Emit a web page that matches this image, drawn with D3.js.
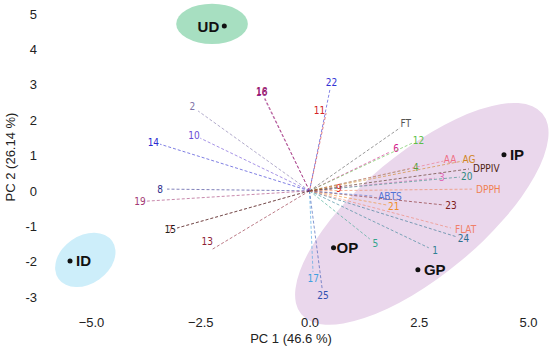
<!DOCTYPE html>
<html>
<head>
<meta charset="utf-8">
<script src="https://cdn.jsdelivr.net/npm/d3@7"></script>
<style>
  body { margin: 0; background: #fff; }
  svg { display: block; }
</style>
</head>
<body>
<svg id="biplot" width="550" height="349"></svg>
<script>
// loadings (variables)
const varNames = ['1','2','3','4','5','6','7','8','9','10','11','12','13','14','15','16','17','18','19','20','21','22','23','24','25','AA','AG','ABTS','DPPH','DPPIV','FLAT','FT'];
const varPC1 = [2.73,-2.55,2.87,2.28,1.38,1.84,-3.03,-3.26,0.51,-2.50,0.38,2.35,-2.25,-3.42,-3.03,-1.03,0.08,-1.02,-3.72,3.44,1.77,0.47,3.08,3.37,0.29,3.06,3.49,1.48,3.72,3.65,3.24,2.07];
const varPC2 = [-1.61,2.26,0.36,0.62,-1.36,1.10,-1.05,0.05,0.05,1.49,2.20,1.35,-1.67,1.32,-1.05,2.60,-2.29,2.62,-0.29,0.39,-0.40,2.88,-0.40,-1.30,-2.77,0.84,0.84,-0.15,0.05,0.62,-1.05,1.78];

// samples (scores)
const groupNames = ['UD','ID','IP','OP','GP'];
const groupPC1 = [-1.95,-5.48,4.45,0.55,2.48];
const groupPC2 = [4.66,-1.98,1.02,-1.61,-2.23];

// confidence ellipses
const ellipseNames = ['IP-OP-GP','UD','ID'];
const ellipseCX = [2.57,-2.23,-5.13];
const ellipseCY = [-0.65,4.72,-1.95];
const ellipseRX = [3.59,0.82,0.75];
const ellipseRY = [1.40,0.46,0.55];
const ellipseAngle = [-39.8,0,-35];

const xTicks = [-5.0,-2.5,0.0,2.5,5.0];
const yTicks = [-3,-2,-1,0,1,2,3,4,5];

const varColors = {
  '1':'#2f7f93','2':'#7f73a8','3':'#e06cb8','4':'#5a9f3c','5':'#35a58c','6':'#d41f8c','7':'#e86a6a',
  '8':'#2d2d8c','9':'#e3261f','10':'#6b4bd6','11':'#d42424','12':'#5cc046','13':'#8e2236','14':'#2a2ad0',
  '15':'#1e1e1e','16':'#8a2a96','17':'#3fa0e0','18':'#a3155f','19':'#a33a74','20':'#2e8a80','21':'#ef8e2a',
  '22':'#3434d4','23':'#7e2020','24':'#2c6f8e','25':'#3150b0','AA':'#ef6f86','AG':'#d08422','ABTS':'#5273d4',
  'DPPH':'#f08050','DPPIV':'#4e2412','FLAT':'#f0806a','FT':'#555555'
};
const ellipseFill = ['#ead7ec','#a7dfc1','#cdeefa'];
const labelNudge = {'13':[2,-12],'11':[-8,4]};

const svg = d3.select('#biplot');
const x = d3.scaleLinear().domain([-5, 5]).range([91, 528]);
const y = d3.scaleLinear().domain([-3, 5]).range([297, 14]);
const unit = x(1) - x(0);

// ellipses
svg.append('g').selectAll('ellipse')
  .data(ellipseNames)
  .join('ellipse')
  .attr('transform', (d, i) => `translate(${x(ellipseCX[i])},${y(ellipseCY[i])}) rotate(${ellipseAngle[i]})`)
  .attr('rx', (d, i) => ellipseRX[i] * unit)
  .attr('ry', (d, i) => ellipseRY[i] * unit)
  .attr('fill', (d, i) => ellipseFill[i]);

// tick labels (no axis lines in the original)
const xAxis = svg.append('g')
  .attr('transform', 'translate(0,315)')
  .call(d3.axisBottom(x).tickValues(xTicks).tickFormat(d3.format('.1f')).tickSize(0));
const yAxis = svg.append('g')
  .attr('transform', 'translate(40,0)')
  .call(d3.axisLeft(y).tickValues(yTicks).tickFormat(d => d < 0 ? '-' + Math.abs(d) : d).tickSize(0));
[xAxis, yAxis].forEach(a => {
  a.select('.domain').remove();
  a.selectAll('text')
    .attr('fill', '#222')
    .style('font-family', '"Liberation Sans", Arial, sans-serif')
    .style('font-size', '13px');
});

svg.append('text')
  .attr('x', 291).attr('y', 343)
  .attr('text-anchor', 'middle')
  .style('font-family', '"Liberation Sans", Arial, sans-serif')
  .style('font-size', '13px')
  .attr('fill', '#222')
  .text('PC 1 (46.6 %)');

svg.append('text')
  .attr('transform', 'translate(15,157) rotate(-90)')
  .attr('text-anchor', 'middle')
  .style('font-family', '"Liberation Sans", Arial, sans-serif')
  .style('font-size', '13px')
  .attr('fill', '#222')
  .text('PC 2 (26.14 %)');

// loading vectors
const vecs = svg.append('g');
varNames.forEach((name, i) => {
  const ex = x(varPC1[i]), ey = y(varPC2[i]);
  const dx = ex - x(0), dy = ey - y(0);
  const len = Math.hypot(dx, dy);
  const ux = dx / len, uy = dy / len;
  vecs.append('line')
    .attr('x1', x(0)).attr('y1', y(0))
    .attr('x2', ex).attr('y2', ey)
    .attr('stroke', varColors[name])
    .attr('stroke-opacity', 0.6)
    .attr('stroke-width', 1)
    .attr('stroke-dasharray', '3,2')
    .attr('stroke-dashoffset', name === '11' ? 2.5 : 0);

  const isWord = name.length > 2;
  const nudge = labelNudge[name] || [0, 0];
  let lx, ly, anchor;
  if (isWord && ux > 0.5) {
    lx = ex + ux * 4; ly = ey + uy * 4; anchor = 'start';
  } else {
    lx = ex + ux * 7; ly = ey + uy * 7; anchor = 'middle';
  }
  vecs.append('text')
    .attr('x', lx + nudge[0]).attr('y', ly + nudge[1])
    .attr('text-anchor', anchor)
    .attr('dominant-baseline', 'central')
    .attr('fill', varColors[name])
    .style('font-family', '"DejaVu Sans Condensed", "DejaVu Sans", sans-serif')
    .style('font-size', '10px')
    .text(name);
});

// sample scores
const groups = svg.append('g');
groupNames.forEach((name, i) => {
  const gx = x(groupPC1[i]), gy = y(groupPC2[i]);
  groups.append('circle')
    .attr('cx', gx).attr('cy', gy).attr('r', 2.5)
    .attr('fill', '#111');
  const left = name === 'UD';
  groups.append('text')
    .attr('x', left ? gx - 5 : gx + (name === 'OP' ? 3 : 6))
    .attr('y', gy)
    .attr('text-anchor', left ? 'end' : 'start')
    .attr('dominant-baseline', 'central')
    .attr('fill', '#111')
    .style('font-family', '"Liberation Sans", Arial, sans-serif')
    .style('font-weight', 'bold')
    .style('font-size', '15px')
    .text(name);
});
</script>
</body>
</html>
